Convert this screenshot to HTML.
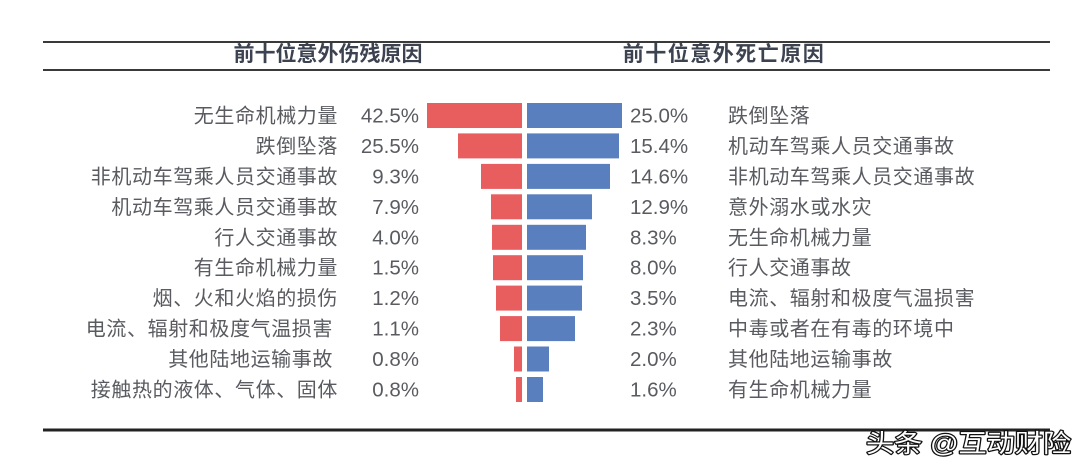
<!DOCTYPE html>
<html>
<head>
<meta charset="utf-8">
<style>
  html,body{margin:0;padding:0;background:#fff;}
  body{width:1080px;height:471px;overflow:hidden;}
  svg{display:block;}
  .t{font-family:"Liberation Sans","Noto Sans CJK SC",sans-serif;font-weight:700;fill:#3c4250;}
  .lab{font-family:"Liberation Sans","Noto Sans CJK SC",sans-serif;font-size:20px;fill:#595b60;letter-spacing:0.6px;}
  .pct{font-family:"Liberation Sans","Noto Sans CJK SC",sans-serif;font-size:20.5px;fill:#595b60;}
  .wm{font-family:"Liberation Sans","Noto Sans CJK SC",sans-serif;font-size:25px;fill:#fff;stroke:#111;stroke-width:2.4px;paint-order:stroke;stroke-linejoin:round;}
</style>
</head>
<body>
<svg width="1080" height="471" viewBox="0 0 1080 471" xmlns="http://www.w3.org/2000/svg">
  <!-- header lines -->
  <rect x="43" y="41" width="1007" height="2" fill="#3a3a3a"/>
  <rect x="43" y="69" width="1007" height="2" fill="#3a3a3a"/>
  <text class="t" x="328" y="61" font-size="21" text-anchor="middle">前十位意外伤残原因</text>
  <text class="t" x="724" y="61" font-size="21" text-anchor="middle" letter-spacing="1.5">前十位意外死亡原因</text>

  <!-- bars -->
  <g fill="#e85d5e">
    <rect x="427" y="103" width="95" height="25"/>
    <rect x="458" y="133.4" width="64" height="25"/>
    <rect x="481" y="163.9" width="41" height="25"/>
    <rect x="491" y="194.3" width="31" height="25"/>
    <rect x="492" y="224.8" width="30" height="25"/>
    <rect x="493" y="255.2" width="29" height="25"/>
    <rect x="496" y="285.6" width="26" height="25"/>
    <rect x="500" y="316.1" width="22" height="25"/>
    <rect x="514" y="346.5" width="8" height="25"/>
    <rect x="516" y="377" width="6" height="25"/>
  </g>
  <g fill="#5a7fbe">
    <rect x="527" y="103" width="95" height="25"/>
    <rect x="527" y="133.4" width="92" height="25"/>
    <rect x="527" y="163.9" width="83" height="25"/>
    <rect x="527" y="194.3" width="65" height="25"/>
    <rect x="527" y="224.8" width="59" height="25"/>
    <rect x="527" y="255.2" width="56" height="25"/>
    <rect x="527" y="285.6" width="55" height="25"/>
    <rect x="527" y="316.1" width="48" height="25"/>
    <rect x="527" y="346.5" width="22" height="25"/>
    <rect x="527" y="377" width="16" height="25"/>
  </g>

  <!-- left labels -->
  <g class="lab" text-anchor="end">
    <text x="338" y="122.5">无生命机械力量</text>
    <text x="338" y="152.9">跌倒坠落</text>
    <text x="338" y="183.4">非机动车驾乘人员交通事故</text>
    <text x="338" y="213.8">机动车驾乘人员交通事故</text>
    <text x="338" y="244.3">行人交通事故</text>
    <text x="338" y="274.7">有生命机械力量</text>
    <text x="338" y="305.1">烟、火和火焰的损伤</text>
    <text x="333" y="335.6">电流、辐射和极度气温损害</text>
    <text x="333" y="366">其他陆地运输事故</text>
    <text x="338" y="396.5">接触热的液体、气体、固体</text>
  </g>
  <g class="pct" text-anchor="end">
    <text x="419" y="122.5">42.5%</text>
    <text x="419" y="152.9">25.5%</text>
    <text x="419" y="183.4">9.3%</text>
    <text x="419" y="213.8">7.9%</text>
    <text x="419" y="244.3">4.0%</text>
    <text x="419" y="274.7">1.5%</text>
    <text x="419" y="305.1">1.2%</text>
    <text x="419" y="335.6">1.1%</text>
    <text x="419" y="366">0.8%</text>
    <text x="419" y="396.5">0.8%</text>
  </g>

  <!-- right -->
  <g class="pct">
    <text x="630" y="122.5">25.0%</text>
    <text x="630" y="152.9">15.4%</text>
    <text x="630" y="183.4">14.6%</text>
    <text x="630" y="213.8">12.9%</text>
    <text x="630" y="244.3">8.3%</text>
    <text x="630" y="274.7">8.0%</text>
    <text x="630" y="305.1">3.5%</text>
    <text x="630" y="335.6">2.3%</text>
    <text x="630" y="366">2.0%</text>
    <text x="630" y="396.5">1.6%</text>
  </g>
  <g class="lab">
    <text x="728" y="122.5">跌倒坠落</text>
    <text x="728" y="152.9">机动车驾乘人员交通事故</text>
    <text x="728" y="183.4">非机动车驾乘人员交通事故</text>
    <text x="728" y="213.8">意外溺水或水灾</text>
    <text x="728" y="244.3">无生命机械力量</text>
    <text x="728" y="274.7">行人交通事故</text>
    <text x="728" y="305.1">电流、辐射和极度气温损害</text>
    <text x="728" y="335.6">中毒或者在有毒的环境中</text>
    <text x="728" y="366">其他陆地运输事故</text>
    <text x="728" y="396.5">有生命机械力量</text>
  </g>

  <!-- bottom line -->
  <rect x="43" y="428.5" width="1007" height="3" fill="#222"/>

  <!-- watermark -->
  <text class="wm" x="866" y="452" textLength="205" lengthAdjust="spacingAndGlyphs">头条 @互动财险</text>
</svg>
</body>
</html>
